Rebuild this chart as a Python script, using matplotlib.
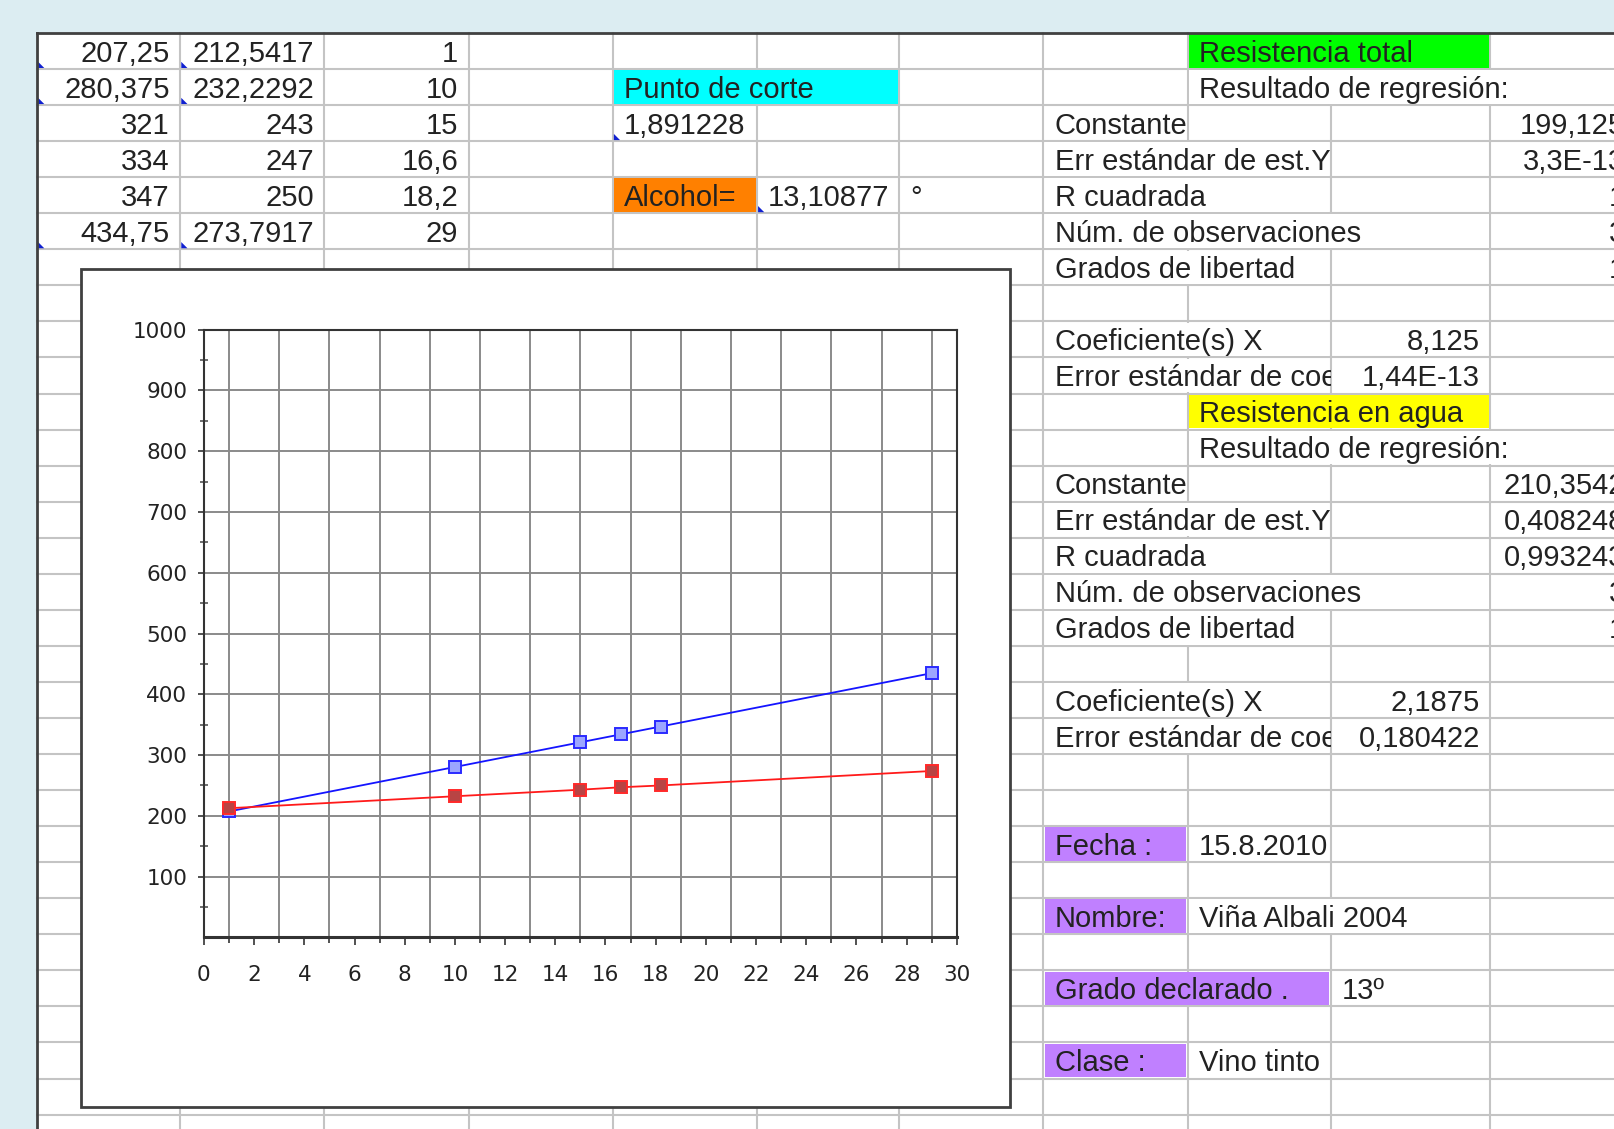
import matplotlib
matplotlib.use('Agg')
import matplotlib.pyplot as plt
from matplotlib.patches import Rectangle, Polygon

# ── Data ────────────────────────────────────────────────────────
grado = [1, 10, 15, 16.6, 18.2, 29]
res_total = [207.25, 280.375, 321, 334, 347, 434.75]
res_agua = [212.5417, 232.2292, 243, 247, 250, 273.7917]

punto_corte = "1,891228"
alcohol = "13,10877"

stat_labels = ["Constante", "Err estándar de est.Y", "R cuadrada",
               "Núm. de observaciones", "Grados de libertad"]
total_stats = ["199,125", "3,3E-13", "1", "3", "1"]
agua_stats = ["210,3542", "0,408248", "0,993243", "3", "1"]

coef_labels = ["Coeficiente(s) X", "Error estándar de coeficiente(s)"]
total_coef = ["8,125", "1,44E-13"]
agua_coef = ["2,1875", "0,180422"]

info_labels = ["Fecha :", "Nombre:", "Grado declarado .", "Clase :"]
info_values = ["15.8.2010", "Viña Albali 2004", "13º", "Vino tinto"]

# ── Sheet geometry (in screenshot pixels, 1568 x 1096) ──────────
W, H = 1568, 1096
COLS = [36, 175, 315, 455, 595, 735, 873, 1013, 1153, 1292, 1447, 1588]
ROW0, ROW_H, N_ROWS = 32, 35, 31
TXT = '#222222'
FONT = 'Liberation Sans'
FS = 21

fig = plt.figure(figsize=(16.15, 11.29), dpi=100)
fig.patch.set_facecolor('#dcedf2')
bg = fig.add_axes([0, 0, 1, 1])
bg.set_xlim(0, W)
bg.set_ylim(H, 0)
bg.axis('off')


def fmt(v):
    return f"{v:.4f}".rstrip('0').rstrip('.').replace('.', ',')


def row_top(r):
    return ROW0 + ROW_H * r


def cell(r, c, text, ha='left', fill=None, span=1, clip=False, marker=False):
    x0, x1 = COLS[c], COLS[c + span]
    y0 = row_top(r)
    if fill is not None or span > 1:
        bg.add_patch(Rectangle((x0 + 1.2, y0 + 1.2), x1 - x0 - 2.4, ROW_H - 2.4,
                               facecolor=fill or 'white', edgecolor='none',
                               zorder=2))
    if marker:
        bg.add_patch(Polygon([(x0 + 1, y0 + ROW_H - 1), (x0 + 7, y0 + ROW_H - 1),
                              (x0 + 1, y0 + ROW_H - 7)], closed=True,
                             facecolor='#1020d0', edgecolor='none', zorder=3))
    if not text:
        return
    tx = x0 + 11 if ha == 'left' else x1 - 10
    t = bg.text(tx, y0 + ROW_H / 2 + 2.5, text, ha=ha, va='center',
                fontsize=FS, family=FONT, color=TXT, zorder=3,
                clip_on=clip)
    if clip:
        t.set_clip_path(Rectangle((x0, y0), x1 - x0, ROW_H,
                                  transform=bg.transData))


# sheet body, grid and border
bg.add_patch(Rectangle((COLS[0], ROW0), W - COLS[0] + 10, H - ROW0 + 10,
                       facecolor='white', edgecolor='none', zorder=0))
for k in range(1, N_ROWS):
    bg.plot([COLS[0], W + 10], [row_top(k)] * 2, color='#c4c4c4', lw=1.5, zorder=1)
for x in COLS[1:-1]:
    bg.plot([x, x], [ROW0, H + 10], color='#c4c4c4', lw=1.5, zorder=1)
bg.plot([COLS[0], W + 10], [ROW0, ROW0], color='#404040', lw=2, zorder=4)
bg.plot([COLS[0], COLS[0]], [ROW0, H + 10], color='#404040', lw=2, zorder=4)

# ── Left block: measurements ────────────────────────────────────
for i in range(len(grado)):
    flag = i in (0, 1, 5)
    cell(i, 0, fmt(res_total[i]), ha='right', marker=flag)
    cell(i, 1, fmt(res_agua[i]), ha='right', marker=flag)
    cell(i, 2, fmt(grado[i]), ha='right')

cell(1, 4, "Punto de corte", fill='#00ffff', span=2)
cell(2, 4, punto_corte, marker=True)
cell(4, 4, "Alcohol=", fill='#ff8000')
cell(4, 5, alcohol, ha='right', marker=True)
cell(4, 6, "°")

# ── Right block: regression outputs ─────────────────────────────
label_span = [1, 2, 2, 3, 2]
for base, title, fill, stats, coefs in [
        (0, "Resistencia total", '#00ff00', total_stats, total_coef),
        (10, "Resistencia en agua", '#ffff00', agua_stats, agua_coef)]:
    cell(base, 8, title, fill=fill, span=2)
    cell(base + 1, 8, "Resultado de regresión:", span=3)
    for j, (lab, val) in enumerate(zip(stat_labels, stats)):
        cell(base + 2 + j, 7, lab, span=label_span[j])
        cell(base + 2 + j, 10, val, ha='right')
    cell(base + 8, 7, coef_labels[0], span=2)
    cell(base + 8, 9, coefs[0], ha='right')
    cell(base + 9, 7, coef_labels[1], span=2, clip=True)
    cell(base + 9, 9, coefs[1], ha='right')

# ── Wine info ───────────────────────────────────────────────────
for k, (lab, val) in enumerate(zip(info_labels, info_values)):
    r = 22 + 2 * k
    if k == 2:
        cell(r, 7, lab, fill='#c080ff', span=2)
        cell(r, 9, val)
    else:
        cell(r, 7, lab, fill='#c080ff')
        cell(r, 8, val, span=2 if k == 1 else 1)

# ── Embedded chart ──────────────────────────────────────────────
bg.add_patch(Rectangle((79, 261), 902, 814, facecolor='white',
                       edgecolor='#404040', lw=2, zorder=5))


def fig_rect(x0, y0, x1, y1):
    return [x0 / W, 1 - y1 / H, (x1 - x0) / W, (y1 - y0) / H]


ax = fig.add_axes(fig_rect(198, 320, 929, 910))
ax.set_facecolor('white')
ax.plot(grado, res_total, color='#1414ff', lw=1.3, marker='s', ms=9,
        mfc='#9ca6ff', mec='#2a2aff', mew=1.4, zorder=3, clip_on=False)
ax.plot(grado, res_agua, color='#ff1a1a', lw=1.3, marker='s', ms=9,
        mfc='#b84444', mec='#ff2a2a', mew=1.4, zorder=4, clip_on=False)

ax.set_xlim(0, 30)
ax.set_ylim(0, 1000)
ax.set_xticks(range(0, 31, 2))
ax.set_xticks(range(1, 30, 2), minor=True)
ax.set_yticks(range(100, 1001, 100))
ax.set_yticks(range(50, 1000, 100), minor=True)
ax.grid(which='minor', axis='x', color='#8a8a8a', lw=1.4)
ax.grid(which='major', axis='y', color='#8a8a8a', lw=1.4)
ax.set_axisbelow(True)

for side in ['top', 'right', 'left']:
    ax.spines[side].set_color('#333333')
    ax.spines[side].set_linewidth(1.5)
ax.spines['bottom'].set_color('#333333')
ax.spines['bottom'].set_linewidth(2.2)

ax.tick_params(axis='x', which='major', direction='out', length=6, width=1.2,
               pad=14, labelsize=15.5, colors='#333333', labelcolor=TXT)
ax.tick_params(axis='x', which='minor', direction='out', length=4, width=1.2,
               colors='#333333')
ax.tick_params(axis='y', which='major', direction='out', length=4, width=1.2,
               pad=8, labelsize=15.5, colors='#333333', labelcolor=TXT)
ax.tick_params(axis='y', which='minor', direction='inout', length=6, width=1.2,
               colors='#555555')
for lab in ax.get_xticklabels() + ax.get_yticklabels():
    lab.set_family('DejaVu Sans')

fig.savefig('out.png', dpi=100, facecolor=fig.get_facecolor())
